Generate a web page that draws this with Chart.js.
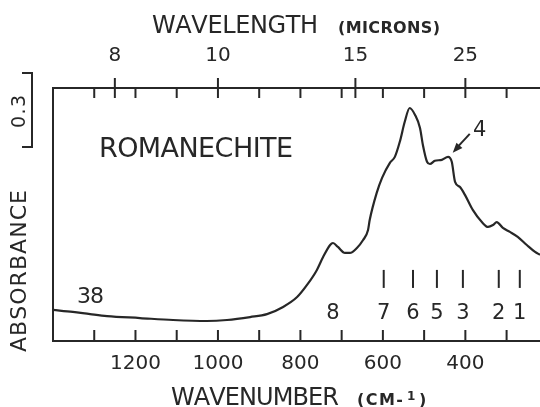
<!DOCTYPE html>
<html>
<head>
<meta charset="utf-8">
<script src="https://cdn.jsdelivr.net/npm/chart.js@4/dist/chart.umd.min.js"></script>
<style>
  html, body { margin: 0; background: #fff; }
  #wrap { width: 540px; height: 407px; }
</style>
</head>
<body>
<div id="wrap"><canvas id="irChart" width="540" height="407"></canvas></div>
<script>
// IR absorbance spectrum, wavenumber in cm-1 (high to low)
const wavenumber = [1400, 1352, 1310, 1269, 1189, 1109, 1027, 978, 922, 881, 842, 808, 784, 760, 745, 728, 721, 709,
  692, 680, 663, 648, 636, 632, 615, 602, 583, 571, 559, 547, 535, 522, 510, 503, 493, 486, 474, 457, 442, 433,
  425, 413, 401, 382, 360, 345, 333, 324, 309, 292, 273, 251, 231, 219];
const absorbance = [0.126, 0.118, 0.109, 0.101, 0.093, 0.085, 0.081, 0.085, 0.097, 0.109, 0.138, 0.178, 0.227, 0.288,
  0.340, 0.389, 0.397, 0.381, 0.357, 0.357, 0.377, 0.409, 0.450, 0.490, 0.600, 0.661, 0.722, 0.746, 0.807, 0.888,
  0.944, 0.916, 0.863, 0.794, 0.726, 0.717, 0.730, 0.734, 0.746, 0.726, 0.645, 0.624, 0.592, 0.531, 0.482, 0.462,
  0.470, 0.482, 0.458, 0.442, 0.422, 0.389, 0.361, 0.349];

// numbered band positions (cm-1)
const bandPos = [598, 527, 469, 406, 319, 268];
const bandNames = ['7', '6', '5', '3', '2', '1'];
const band8 = 721;
const band4 = 433;

// axis ticks
const wnTicks = [1300, 1200, 1100, 1000, 900, 800, 700, 600, 500, 400, 300];
const wnLabels = [1200, 1000, 800, 600, 400];
const micronTicks = [8, 10, 15, 25];

const WN_MIN = 219, WN_MAX = 1400;
const A_MAX = 1.025;
const ink = '#272727';
const FONT = '"DejaVu Sans", sans-serif';

// draw text spread to a given width, char by char
function spaced(ctx, text, x, y, width, size, weight) {
  ctx.font = (weight || '') + ' ' + size + 'px ' + FONT;
  const chars = [...text];
  const ws = chars.map(c => ctx.measureText(c).width);
  const sum = ws.reduce((a, b) => a + b, 0);
  const gap = chars.length > 1 ? (width - sum) / (chars.length - 1) : 0;
  let cx = x;
  chars.forEach((c, i) => { ctx.fillText(c, cx, y); cx += ws[i] + gap; });
}

function centered(ctx, text, x, y, size) {
  ctx.font = size + 'px ' + FONT;
  const w = ctx.measureText(text).width;
  ctx.fillText(text, x - w / 2, y);
}

function line(ctx, x1, y1, x2, y2) {
  ctx.beginPath();
  ctx.moveTo(x1, y1);
  ctx.lineTo(x2, y2);
  ctx.stroke();
}

const decorations = {
  id: 'decorations',
  afterDraw(chart) {
    const ctx = chart.ctx;
    const xs = chart.scales.x, ys = chart.scales.y;
    const { top, bottom } = chart.chartArea;
    ctx.save();
    ctx.strokeStyle = ink;
    ctx.fillStyle = ink;
    ctx.lineWidth = 2;
    ctx.textAlign = 'left';
    ctx.textBaseline = 'alphabetic';

    // inward ticks on the wavenumber axis
    wnTicks.forEach(v => {
      const px = xs.getPixelForValue(v);
      line(ctx, px, bottom, px, bottom - 11);
    });
    // top axis: minor every 100 cm-1, major at micron values
    const majors = micronTicks.map(m => 10000 / m);
    wnTicks.forEach(v => {
      if (majors.some(m => Math.abs(m - v) < 1)) return;
      const px = xs.getPixelForValue(v);
      line(ctx, px, top, px, top + 10);
    });
    majors.forEach(v => {
      const px = xs.getPixelForValue(v);
      line(ctx, px, top - 10, px, top + 10);
    });

    // axis titles
    spaced(ctx, 'WAVELENGTH', 152, 33, 166, 24);
    spaced(ctx, '(MICRONS)', 338, 33, 102, 16, 'bold');
    spaced(ctx, 'WAVENUMBER', 171, 405, 168, 24);
    spaced(ctx, '(CM-', 357, 405, 46, 16, 'bold');
    ctx.font = 'bold 12px ' + FONT;
    ctx.fillText('1', 407, 400);
    ctx.font = 'bold 16px ' + FONT;
    ctx.fillText(')', 419, 405);

    // absorbance label and 0.3 scale bar
    ctx.save();
    ctx.translate(26, 352);
    ctx.rotate(-Math.PI / 2);
    spaced(ctx, 'ABSORBANCE', 0, 0, 162, 22);
    ctx.restore();
    ctx.save();
    ctx.translate(25, 128);
    ctx.rotate(-Math.PI / 2);
    spaced(ctx, '0.3', 0, 0, 33, 19);
    ctx.restore();
    ctx.beginPath();
    ctx.moveTo(22, 73);
    ctx.lineTo(32, 73);
    ctx.lineTo(32, 147);
    ctx.lineTo(22, 147);
    ctx.stroke();

    // mineral name and spectrum number
    spaced(ctx, 'ROMANECHITE', 99, 157, 194, 27);
    spaced(ctx, '38', 77, 303, 27, 22);

    // band markers
    const barTop = ys.getPixelForValue(0.288);
    const barBot = ys.getPixelForValue(0.215);
    const labY = ys.getPixelForValue(0.09);
    bandPos.forEach((v, i) => {
      const px = xs.getPixelForValue(v);
      line(ctx, px, barTop, px, barBot);
      centered(ctx, bandNames[i], px, labY, 21);
    });
    centered(ctx, '8', xs.getPixelForValue(band8), labY, 21);

    // band 4 arrow
    const tx = xs.getPixelForValue(band4) + 1;
    const ty = ys.getPixelForValue(0.746) - 4;
    const sx = tx + 17, sy = ty - 19;
    line(ctx, sx, sy, tx + 4, ty - 5);
    const ang = Math.atan2(ty - sy, tx - sx);
    ctx.beginPath();
    ctx.moveTo(tx, ty);
    ctx.lineTo(tx - 10 * Math.cos(ang) + 4 * Math.sin(ang), ty - 10 * Math.sin(ang) - 4 * Math.cos(ang));
    ctx.lineTo(tx - 10 * Math.cos(ang) - 4 * Math.sin(ang), ty - 10 * Math.sin(ang) + 4 * Math.cos(ang));
    ctx.closePath();
    ctx.fill();
    centered(ctx, '4', sx + 10, sy + 2, 21);

    ctx.restore();
  }
};

new Chart(document.getElementById('irChart'), {
  type: 'scatter',
  data: {
    datasets: [{
      data: wavenumber.map((w, i) => ({ x: w, y: absorbance[i] })),
      showLine: true,
      borderColor: ink,
      borderWidth: 2.2,
      pointRadius: 0,
      cubicInterpolationMode: 'monotone'
    }]
  },
  options: {
    responsive: false,
    animation: false,
    layout: { padding: { left: 53, right: 0, top: 0, bottom: 0 } },
    plugins: { legend: { display: false }, tooltip: { enabled: false } },
    scales: {
      x: {
        type: 'linear',
        position: 'bottom',
        reverse: true,
        min: WN_MIN,
        max: WN_MAX,
        afterBuildTicks: axis => { axis.ticks = wnTicks.map(v => ({ value: v })); },
        afterFit: axis => { axis.height = 66; },
        ticks: {
          autoSkip: false,
          maxRotation: 0,
          padding: 11,
          color: ink,
          font: { family: FONT, size: 20 },
          callback: v => wnLabels.includes(v) ? String(v) : ''
        },
        grid: { drawOnChartArea: false, drawTicks: false },
        border: { display: true, color: ink, width: 2 }
      },
      x2: {
        type: 'linear',
        position: 'top',
        reverse: true,
        min: WN_MIN,
        max: WN_MAX,
        afterBuildTicks: axis => { axis.ticks = micronTicks.map(m => ({ value: 10000 / m })); },
        afterFit: axis => { axis.height = 88; },
        ticks: {
          autoSkip: false,
          maxRotation: 0,
          padding: 20,
          color: ink,
          font: { family: FONT, size: 20 },
          callback: v => String(Math.round(10000 / v))
        },
        grid: { drawOnChartArea: false, drawTicks: false },
        border: { display: true, color: ink, width: 2 }
      },
      y: {
        min: 0,
        max: A_MAX,
        afterFit: axis => { axis.width = 0; },
        ticks: { display: false },
        grid: { drawOnChartArea: false, drawTicks: false },
        border: { display: true, color: ink, width: 2 }
      }
    }
  },
  plugins: [decorations]
});
</script>
</body>
</html>
